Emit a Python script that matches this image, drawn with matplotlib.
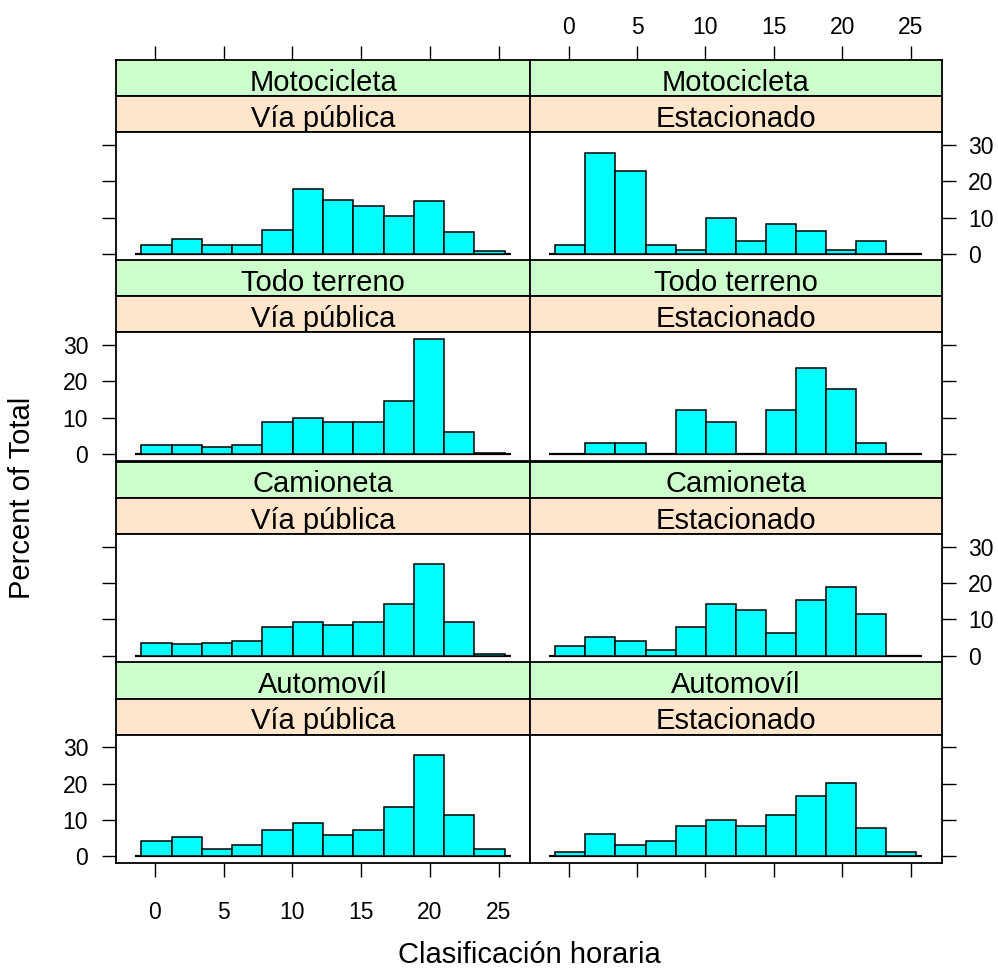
import matplotlib

matplotlib.use("Agg")
import matplotlib.pyplot as plt
import numpy as np

plt.rcParams["font.family"] = ["Liberation Sans", "DejaVu Sans"]

# histogram breaks shared by every panel (hours)
breaks = [-0.98, 1.22, 3.42, 5.62, 7.82, 10.02, 12.22, 14.42, 16.62, 18.82, 21.02, 23.22, 25.42]

vehicles = ["Motocicleta", "Todo terreno", "Camioneta", "Automovíl"]
places = ["Vía pública", "Estacionado"]

# percent of total per bin
moto_via = [2.4, 4.1, 2.4, 2.4, 6.7, 17.8, 15.0, 13.1, 10.4, 14.6, 6.2, 0.9]
moto_est = [2.5, 27.7, 23.0, 2.5, 1.2, 9.9, 3.7, 8.4, 6.3, 1.2, 3.7, 0.0]
todo_via = [2.5, 2.5, 1.9, 2.5, 8.7, 9.8, 8.7, 8.7, 14.6, 31.6, 6.2, 0.4]
todo_est = [0.0, 3.1, 3.1, 0.0, 12.1, 8.8, 0.0, 12.1, 23.7, 17.8, 3.1, 0.0]
cam_via = [3.6, 3.2, 3.6, 4.2, 7.9, 9.4, 8.4, 9.3, 14.2, 25.2, 9.4, 0.5]
cam_est = [2.7, 5.3, 4.2, 1.5, 7.9, 14.3, 12.7, 6.4, 15.3, 19.0, 11.6, 0.0]
auto_via = [4.1, 5.2, 2.0, 3.2, 7.2, 9.3, 5.8, 7.2, 13.5, 27.9, 11.4, 2.0]
auto_est = [1.1, 6.2, 3.0, 4.1, 8.3, 9.9, 8.3, 11.5, 16.7, 20.2, 7.8, 1.1]

panels = [
    [moto_via, moto_est],
    [todo_via, todo_est],
    [cam_via, cam_est],
    [auto_via, auto_est],
]

x_ticks = [0, 5, 10, 15, 20, 25]
y_ticks = [0, 10, 20, 30]

W, H = 998, 969
fig = plt.figure(figsize=(W / 100, H / 100), dpi=100)


def box(x0, y0, x1, y1):
    # pixel box (top-left origin) -> figure fraction rect
    return [x0 / W, 1 - y1 / H, (x1 - x0) / W, (y1 - y0) / H]


col_x = [(116, 530), (530, 941.7)]
row_top = [60, 260, 461.7, 662.3]
row_h = 200.8
strip_h = 36.2

edges = np.array(breaks)
widths = np.diff(edges)
span = edges[-1] - edges[0]
xlim = (edges[0] - 0.07 * span, edges[-1] + 0.07 * span)
ylim = (-1.85, 33.5)

tick_kw = dict(direction="out", length=10, width=1.0, labelsize=16.5, color="black")
green, peach = "#CCFFCC", "#FFE5CC"

for r, veh in enumerate(vehicles):
    y0 = row_top[r]
    for c, place in enumerate(places):
        x0, x1 = col_x[c]

        # strips: vehicle on top, place below
        for k, (label, fc) in enumerate([(veh, green), (place, peach)]):
            sax = fig.add_axes(box(x0, y0 + k * strip_h, x1, y0 + (k + 1) * strip_h))
            sax.set_facecolor(fc)
            sax.set_xlim(xlim)
            sax.set_yticks([])
            for sp in sax.spines.values():
                sp.set_linewidth(1.3)
            sax.text(0.5, 0.15, label, transform=sax.transAxes, ha="center",
                     va="baseline", fontsize=21)
            if r == 0 and k == 0:
                sax.xaxis.tick_top()
                sax.set_xticks(x_ticks)
                sax.tick_params(axis="x", pad=5, labeltop=(c == 1), **tick_kw)
            else:
                sax.set_xticks([])

        ax = fig.add_axes(box(x0, y0 + 2 * strip_h, x1, y0 + row_h))
        heights = panels[r][c]
        ax.hlines(0, edges[0] - 0.2 * widths[0], edges[-1] + 0.2 * widths[-1],
                  color="black", lw=1.6, zorder=1)
        ax.bar(edges[:-1], heights, width=widths, align="edge", color="#00FFFF",
               edgecolor="black", linewidth=1.1, zorder=2)
        ax.set_xlim(xlim)
        ax.set_ylim(ylim)
        ax.set_xticks(x_ticks)
        ax.set_yticks(y_ticks)
        for sp in ax.spines.values():
            sp.set_linewidth(1.3)
        ax.tick_params(axis="y", left=(c == 0), right=(c == 1),
                       labelleft=(c == 0 and r % 2 == 1),
                       labelright=(c == 1 and r % 2 == 0),
                       pad=10 if c == 0 else 9, **tick_kw)
        ax.tick_params(axis="x", bottom=(r == 3), top=False,
                       labelbottom=(r == 3 and c == 0), pad=17, **tick_kw)

fig.text(529 / W, 1 - 951.7 / H, "Clasificación horaria", ha="center",
         va="center_baseline", fontsize=21)
fig.text(22 / W, 1 - 497.5 / H, "Percent of Total", ha="center", va="center",
         rotation=90, fontsize=21)

fig.savefig("out.png", dpi=100)
